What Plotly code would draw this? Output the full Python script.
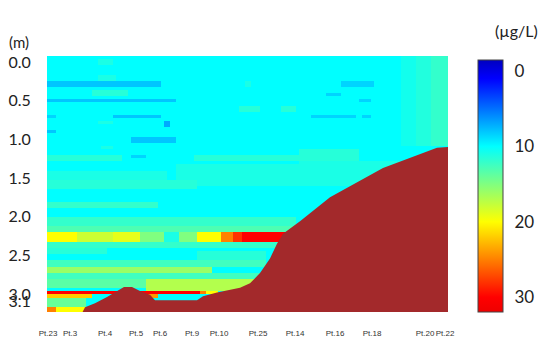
import numpy as np
import plotly.graph_objects as go

# ---- data ----
station_names = ['Pt.23', 'Pt.3', 'Pt.4', 'Pt.5', 'Pt.6', 'Pt.9', 'Pt.10',
                 'Pt.25', 'Pt.14', 'Pt.16', 'Pt.18', 'Pt.20', 'Pt.22']
station_dist = [1, 23, 58, 89, 113, 145, 172, 211, 248, 288, 325, 378, 398]

depth_ticks = [0.0, 0.5, 1.0, 1.5, 2.0, 2.5, 3.0, 3.1]
conc_ticks = [0, 10, 20, 30]

background_conc = 10.0  # dominant cyan water

# (dist_from, dist_to, depth_from, depth_to, concentration)
low_streaks = [
    (0, 115, 0.25, 0.32, 8), (0, 128, 0.47, 0.54, 8), (0, 10, 0.67, 0.74, 8.5),
    (65, 115, 0.67, 0.74, 8), (118, 124, 0.78, 0.84, 7), (0, 8, 0.88, 0.94, 8),
    (85, 128, 0.98, 1.05, 8), (85, 98, 1.20, 1.25, 8.5), (293, 328, 0.25, 0.32, 8.5),
    (278, 293, 0.39, 0.45, 8.5), (313, 323, 0.49, 0.54, 8.5), (265, 308, 0.67, 0.74, 8.5),
    (315, 325, 0.67, 0.74, 8.5),
]
mid_patches = [
    (50, 65, -0.03, 0.03, 11), (50, 70, 0.18, 0.23, 11), (45, 80, 0.37, 0.44, 11.5),
    (50, 65, 0.76, 0.82, 11), (53, 65, 1.07, 1.14, 11), (0, 75, 1.19, 1.27, 11.5),
    (0, 120, 1.40, 1.53, 11), (198, 203, 0.26, 0.31, 11), (193, 213, 0.56, 0.65, 11.5),
    (233, 248, 0.56, 0.65, 11.5), (148, 263, 1.20, 1.27, 11.5), (130, 263, 1.33, 1.60, 11),
    (355, 401, -0.08, 1.10, 10.7), (370, 401, -0.08, 1.10, 11.3), (385, 401, -0.08, 1.10, 12),
    (253, 313, 1.14, 1.27, 11.5),
    (253, 353, 1.30, 1.60, 11), (0, 150, 1.53, 1.66, 11.5), (0, 110, 1.81, 1.89, 12),
    (0, 250, 2.02, 2.11, 12), (0, 250, 2.13, 2.20, 13), (0, 236, 2.33, 2.39, 12),
    (0, 60, 2.39, 2.47, 11.5), (150, 220, 2.45, 2.56, 11.5), (0, 220, 2.56, 2.64, 12.5),
    (0, 225, 2.72, 2.82, 12.5), (0, 100, 2.82, 2.92, 13.5),
]
high_bands = [
    (0, 30, 2.21, 2.33, 20), (30, 65, 2.21, 2.33, 18), (65, 93, 2.21, 2.33, 19),
    (93, 116, 2.21, 2.33, 15), (116, 133, 2.21, 2.33, 11), (133, 150, 2.21, 2.33, 15),
    (150, 173, 2.21, 2.33, 20), (173, 185, 2.21, 2.33, 25), (185, 196, 2.21, 2.33, 28),
    (196, 240, 2.21, 2.33, 30), (0, 165, 2.65, 2.72, 16), (100, 215, 2.82, 2.95, 17),
    (0, 153, 2.95, 3.01, 30), (153, 160, 2.95, 3.01, 25), (160, 172, 2.95, 3.01, 20),
    (0, 46, 3.01, 3.05, 22), (93, 110, 3.01, 3.04, 24), (108, 150, 3.04, 3.08, 10),
    (0, 40, 3.05, 3.17, 14), (0, 8, 3.17, 3.30, 25), (8, 38, 3.17, 3.30, 20),
]

seabed_dist = [0, 33, 38, 48, 60, 71, 77, 85, 93, 103, 108, 150, 156, 170, 193,
               203, 213, 223, 230, 236, 253, 283, 336, 390, 401]
seabed_depth = [3.30, 3.30, 3.17, 3.12, 3.04, 2.95, 2.91, 2.91, 2.96, 3.01, 3.08,
                3.08, 3.03, 2.98, 2.92, 2.86, 2.73, 2.54, 2.35, 2.22, 2.06, 1.75,
                1.37, 1.11, 1.10]

# ---- build grid ----
X_RANGE = [0, 401]
Y_RANGE = [3.233, -0.078]
xc = np.arange(1.5, 402, 3.0)
dc = np.arange(-0.058, 3.24, 0.04)
Z = np.full((len(dc), len(xc)), background_conc)
for group in (low_streaks, mid_patches, high_bands):
    for x0, x1, d0, d1, v in group:
        mx = (xc >= x0) & (xc < x1)
        md = (dc >= d0) & (dc < d1)
        Z[np.ix_(md, mx)] = v

cmin_z, cmax_z = -1.46, 31.96
span = cmax_z - cmin_z
def f(z):
    return (cmax_z - z) / span
colorscale = [
    [0.0, '#ee0000'], [f(30), '#ff0000'], [f(25), '#ff8000'], [f(20), '#ffff00'],
    [f(15), '#80ff80'], [f(10), '#00ffff'], [f(5), '#0070ff'], [f(1), '#0000ff'],
    [1.0, '#0000c0'],
]

# page offset: the html body adds an 8 px margin
OFF = 8
PL, PR, PT, PB = 47, 448, 56, 312   # plot area in page pixels
PW, PH = PR - PL, PB - PT

fig = go.Figure()
fig.add_trace(go.Heatmap(
    x=xc, y=dc, z=-Z, colorscale=colorscale, zmin=-cmax_z, zmax=-cmin_z,
    zsmooth=False, hoverinfo='skip',
    colorbar=dict(
        x=(478 - PL) / PW, xanchor='left', xref='paper', xpad=0, ypad=0,
        y=(PB - 186) / PH, yanchor='middle', len=252 / PH, lenmode='fraction',
        thickness=25, outlinewidth=1, outlinecolor='#444',
        tickvals=[-t for t in conc_ticks], ticktext=[str(t) for t in conc_ticks],
        ticks='outside', ticklen=8, tickcolor='rgba(0,0,0,0)',
        tickfont=dict(family='Lato', size=17, color='#222'),
    ),
))
fig.add_trace(go.Scatter(
    x=seabed_dist + [401, 0], y=seabed_depth + [3.4, 3.4],
    fill='toself', fillcolor='#a3292b', mode='lines', line=dict(width=0),
    hoverinfo='skip', showlegend=False,
))

fig.update_xaxes(range=X_RANGE, tickvals=station_dist, ticktext=station_names,
                 ticks='outside', ticklen=13, tickcolor='rgba(0,0,0,0)', tickangle=0,
                 tickfont=dict(family='Liberation Sans', size=8, color='#333'),
                 showgrid=False, zeroline=False, showline=False, automargin=False)
fig.update_yaxes(range=Y_RANGE, tickvals=depth_ticks,
                 ticktext=[f'{t:.1f}' for t in depth_ticks],
                 ticks='outside', ticklen=12, tickcolor='rgba(0,0,0,0)',
                 tickfont=dict(family='Lato', size=16, color='#222'),
                 showgrid=False, zeroline=False, showline=False, automargin=False)

fig.add_annotation(text='(m)', xref='paper', yref='paper',
                   x=(19 - PL) / PW, y=(PB - 42) / PH, showarrow=False,
                   xanchor='center', yanchor='middle',
                   font=dict(family='Lato', size=15, color='#222'))
fig.add_annotation(text='(µg/L)', xref='paper', yref='paper',
                   x=(516 - PL) / PW, y=(PB - 30) / PH, showarrow=False,
                   xanchor='center', yanchor='middle',
                   font=dict(family='Lato', size=16, color='#222'))

fig.update_layout(width=546 - OFF, height=338 - OFF,
                  margin=dict(l=PL - OFF, r=546 - PR, t=PT - OFF, b=338 - PB,
                              autoexpand=False),
                  paper_bgcolor='white', plot_bgcolor='white', showlegend=False)
fig.write_html('out.html')
